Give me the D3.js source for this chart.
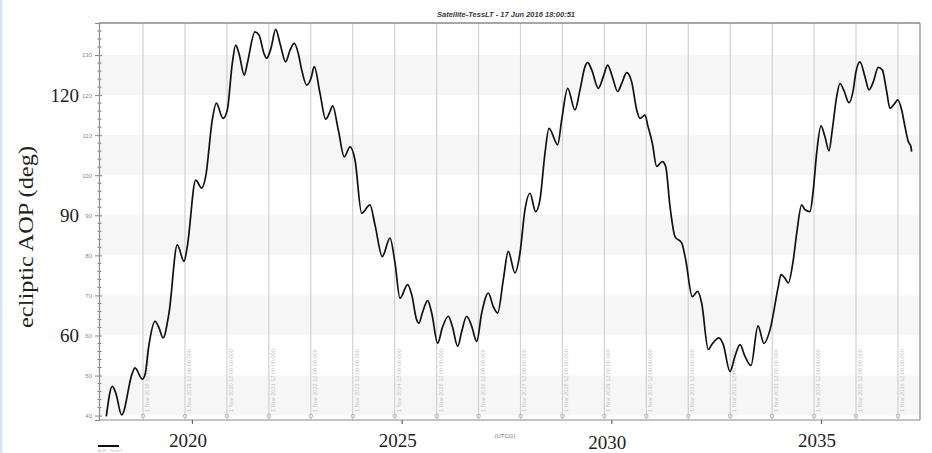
<!DOCTYPE html>
<html>
<head>
<meta charset="utf-8">
<script src="https://cdn.jsdelivr.net/npm/d3@7/dist/d3.min.js"></script>
<style>
  html, body { margin: 0; padding: 0; background: #ffffff; }
  svg { display: block; }
</style>
</head>
<body>
<script>
// ---------------- data ----------------
const titleText = "Satellite-TessLT - 17 Jun 2016 18:00:51";
const yAxisTitle = "ecliptic AOP (deg)";
const bigYLabels = [120, 90, 60];
const bigXLabels = [2020, 2025, 2030, 2035];
const smallYTicks = [40, 50, 60, 70, 80, 90, 100, 110, 120, 130];
const bandStarts = [40, 60, 80, 100, 120];
const gridYears = [2018, 2019, 2020, 2021, 2022, 2023, 2024, 2025, 2026, 2027,
                   2028, 2029, 2030, 2031, 2032, 2033, 2034, 2035, 2036];
const gridDateLabel = "1 Nov {Y} 12:00:00.000";

// decimal year
const years = [
  2017.958, 2018.101, 2018.182, 2018.325, 2018.578, 2018.642, 2018.816, 2018.881, 2018.976, 2019.119,
  2019.215, 2019.310, 2019.453, 2019.651, 2019.811, 2019.889, 2020.090, 2020.233, 2020.328, 2020.485,
  2020.581, 2020.741, 2020.843, 2020.962, 2021.043, 2021.122, 2021.248, 2021.320, 2021.503, 2021.599,
  2021.718, 2021.782, 2021.885, 2021.997, 2022.100, 2022.235, 2022.338, 2022.441, 2022.536, 2022.617,
  2022.736, 2022.839, 2022.917, 2023.053, 2023.189, 2023.292, 2023.356, 2023.490, 2023.633, 2023.769,
  2023.888, 2024.048, 2024.245, 2024.365, 2024.539, 2024.722, 2024.842, 2024.961, 2025.144, 2025.240,
  2025.359, 2025.414, 2025.493, 2025.621, 2025.717, 2025.860, 2025.969, 2026.113, 2026.208, 2026.337,
  2026.432, 2026.551, 2026.670, 2026.790, 2026.909, 2027.066, 2027.186, 2027.290, 2027.424, 2027.543,
  2027.703, 2027.822, 2027.941, 2028.061, 2028.196, 2028.299, 2028.418, 2028.514, 2028.721, 2028.816,
  2028.959, 2029.133, 2029.253, 2029.372, 2029.436, 2029.532, 2029.689, 2029.808, 2029.913, 2030.023,
  2030.152, 2030.247, 2030.366, 2030.485, 2030.605, 2030.683, 2030.803, 2030.867, 2030.977, 2031.081,
  2031.215, 2031.296, 2031.399, 2031.518, 2031.678, 2031.773, 2031.930, 2032.059, 2032.154, 2032.312,
  2032.393, 2032.567, 2032.670, 2032.829, 2032.948, 2033.068, 2033.187, 2033.330, 2033.497, 2033.640,
  2033.783, 2033.981, 2034.045, 2034.141, 2034.219, 2034.339, 2034.420, 2034.539, 2034.617, 2034.737,
  2034.815, 2034.896, 2034.999, 2035.094, 2035.190, 2035.268, 2035.373, 2035.452, 2035.555, 2035.667,
  2035.769, 2035.826, 2035.929, 2036.048, 2036.144, 2036.246, 2036.365, 2036.461, 2036.565, 2036.644,
  2036.763, 2036.828, 2036.923, 2037.002, 2037.081, 2037.145, 2037.160
];
// ecliptic argument of perigee, deg
const aop = [
  39.8, 47.3, 45.7, 40.2, 50.6, 51.9, 49.1, 50.2, 57.7, 63.5,
  61.9, 59.4, 65.6, 82.6, 78.5, 82.2, 98.8, 96.8, 99.7, 113.8,
  118.0, 114.2, 116.3, 127.9, 132.5, 130.4, 125.0, 127.9, 135.8, 135.0,
  130.4, 129.2, 131.7, 136.4, 132.9, 128.3, 131.2, 132.9, 130.4, 126.3,
  122.5, 124.2, 127.1, 120.5, 114.0, 115.9, 117.3, 111.3, 104.6, 107.1,
  103.8, 90.5, 92.6, 87.6, 79.7, 84.3, 78.1, 69.3, 72.7, 70.2,
  63.9, 63.1, 65.6, 68.7, 65.6, 58.1, 61.9, 64.8, 62.3, 57.3,
  61.0, 64.8, 62.3, 58.5, 65.6, 70.6, 67.2, 65.6, 73.9, 81.0,
  75.6, 80.6, 91.4, 95.5, 90.9, 93.9, 105.5, 111.7, 107.6, 113.8,
  121.7, 116.3, 121.3, 127.1, 128.1, 126.3, 121.7, 124.6, 127.5, 124.6,
  120.9, 122.9, 125.6, 123.3, 116.3, 114.2, 115.0, 112.5, 108.0, 102.2,
  103.4, 102.2, 92.2, 84.7, 83.1, 78.9, 69.7, 71.0, 68.1, 56.5,
  57.7, 59.4, 57.7, 51.0, 54.8, 57.7, 54.8, 52.5, 62.4, 58.0,
  61.4, 72.2, 75.2, 74.3, 73.1, 78.9, 85.5, 92.6, 91.4, 90.9,
  96.3, 105.5, 112.3, 109.6, 106.1, 111.3, 119.6, 122.9, 120.9, 118.1,
  121.3, 125.4, 128.3, 124.6, 121.3, 123.3, 126.9, 126.3, 120.9, 116.7,
  118.0, 118.8, 116.3, 112.1, 108.4, 107.1, 105.9
];

// ---------------- layout ----------------
const W = 932, H = 453;
const plot = { left: 99, right: 920, top: 23, bottom: 420 };

const svg = d3.select("body").append("svg")
  .attr("width", W).attr("height", H);

// faint blue strip at left edge of the screenshot
svg.append("rect").attr("x", 0).attr("y", 0).attr("width", 2.5).attr("height", H)
  .attr("fill", "#d6e4f2");

const x = d3.scaleLinear().domain([2017.784, 2037.36]).range([plot.left, plot.right]);
const y = d3.scaleLinear().domain([38.9, 138.0]).range([plot.bottom, plot.top]);

// alternating bands
svg.append("g").selectAll("rect").data(bandStarts).join("rect")
  .attr("x", plot.left).attr("width", plot.right - plot.left)
  .attr("y", d => y(d + 10)).attr("height", d => y(d) - y(d + 10))
  .attr("fill", "#f6f6f6");

// vertical date grid lines
const gridX = d => x(d + 304.5 / 365);
const grid = svg.append("g");
grid.selectAll("line").data(gridYears).join("line")
  .attr("x1", gridX).attr("x2", gridX)
  .attr("y1", plot.top).attr("y2", plot.bottom)
  .attr("stroke", "#d2d2d2").attr("stroke-width", 1.2);
grid.selectAll("circle").data(gridYears).join("circle")
  .attr("cx", gridX).attr("cy", plot.bottom - 4).attr("r", 1.8)
  .attr("fill", "none").attr("stroke", "#aaaaaa").attr("stroke-width", 0.8);
grid.selectAll("text").data(gridYears).join("text")
  .attr("transform", d => `translate(${gridX(d) + 6},${plot.bottom - 8}) rotate(-90)`)
  .attr("font-family", "Liberation Sans, Arial, sans-serif")
  .attr("font-size", 5.6).attr("fill", "#c4c4c4")
  .text(d => gridDateLabel.replace("{Y}", d));

// frame
svg.append("line").attr("x1", plot.left).attr("x2", plot.right)
  .attr("y1", plot.top).attr("y2", plot.top).attr("stroke", "#8a8a8a").attr("stroke-width", 1.5);
svg.append("line").attr("x1", plot.right).attr("x2", plot.right)
  .attr("y1", plot.top).attr("y2", plot.bottom).attr("stroke", "#8a8a8a").attr("stroke-width", 1.2);
svg.append("line").attr("x1", plot.left).attr("x2", plot.right)
  .attr("y1", plot.bottom).attr("y2", plot.bottom).attr("stroke", "#8a8a8a").attr("stroke-width", 1.2);

// left axis with small ticks
const yAxis = d3.axisLeft(y).tickValues(smallYTicks).tickSize(4).tickPadding(3);
const gy = svg.append("g").attr("transform", `translate(${plot.left},0)`).call(yAxis);
gy.select(".domain").attr("stroke", "#8a8a8a").attr("stroke-width", 1.2);
gy.selectAll(".tick line").attr("stroke", "#888").attr("x2", -4).attr("x1", 3);
gy.selectAll(".tick text").attr("font-family", "Liberation Sans, Arial, sans-serif")
  .attr("font-size", 6).attr("fill", "#8a8a8a");
const minorY = d3.range(38, 138, 2).filter(v => v % 10 !== 0 && v >= 39);
svg.append("g").selectAll("line").data(minorY).join("line")
  .attr("x1", plot.left - 1.5).attr("x2", plot.left + 2.5)
  .attr("y1", d => y(d)).attr("y2", d => y(d))
  .attr("stroke", "#888").attr("stroke-width", 1);

// bottom axis ticks
const xAxis = d3.axisBottom(x).tickValues(bigXLabels).tickSize(4).tickFormat("");
const gx = svg.append("g").attr("transform", `translate(0,${plot.bottom})`).call(xAxis);
gx.select(".domain").remove();
gx.selectAll(".tick line").attr("stroke", "#666").attr("stroke-width", 1.2);

// data line
const line = d3.line().x((d, i) => x(years[i])).y(d => y(d)).curve(d3.curveMonotoneX);
svg.append("path").datum(aop)
  .attr("d", line).attr("fill", "none")
  .attr("stroke", "#111").attr("stroke-width", 1.7).attr("stroke-linejoin", "round");

// title
svg.append("text").attr("x", 506).attr("y", 17).attr("text-anchor", "middle")
  .attr("font-family", "Liberation Sans, Arial, sans-serif")
  .attr("font-size", 7.5).attr("font-weight", "bold").attr("font-style", "italic")
  .attr("fill", "#3a3a3a").text(titleText);

// (UTCG)
svg.append("text").attr("x", 505).attr("y", 438).attr("text-anchor", "middle")
  .attr("font-family", "Liberation Sans, Arial, sans-serif")
  .attr("font-size", 6).attr("fill", "#7a7a7a").text("(UTCG)");

// large overlay labels
const serif = "Liberation Serif, Times New Roman, serif";
svg.append("g").selectAll("text").data(bigYLabels).join("text")
  .attr("x", 79).attr("y", d => y(d) + 6.5).attr("text-anchor", "end")
  .attr("font-family", serif).attr("font-size", 19).attr("fill", "#222")
  .text(d => d);
svg.append("g").selectAll("text").data(bigXLabels).join("text")
  .attr("x", d => x(d) - 4).attr("y", (d, i) => i === 2 ? 449 : 447).attr("text-anchor", "middle")
  .attr("font-family", serif).attr("font-size", 19).attr("fill", "#222")
  .text(d => d);
svg.append("text")
  .attr("transform", "translate(33,237) rotate(-90)")
  .attr("text-anchor", "middle")
  .attr("font-family", serif).attr("font-size", 22).attr("fill", "#222")
  .attr("textLength", 182).attr("lengthAdjust", "spacingAndGlyphs")
  .text(yAxisTitle);

// clipped legend remnant bottom-left
svg.append("line").attr("x1", 98).attr("x2", 119).attr("y1", 446).attr("y2", 446)
  .attr("stroke", "#111").attr("stroke-width", 2);
svg.append("text").attr("x", 98).attr("y", 451.5)
  .attr("font-family", "Liberation Sans, Arial, sans-serif")
  .attr("font-size", 4).attr("fill", "#bbb").text("AOP - TessLT");
</script>
</body>
</html>
